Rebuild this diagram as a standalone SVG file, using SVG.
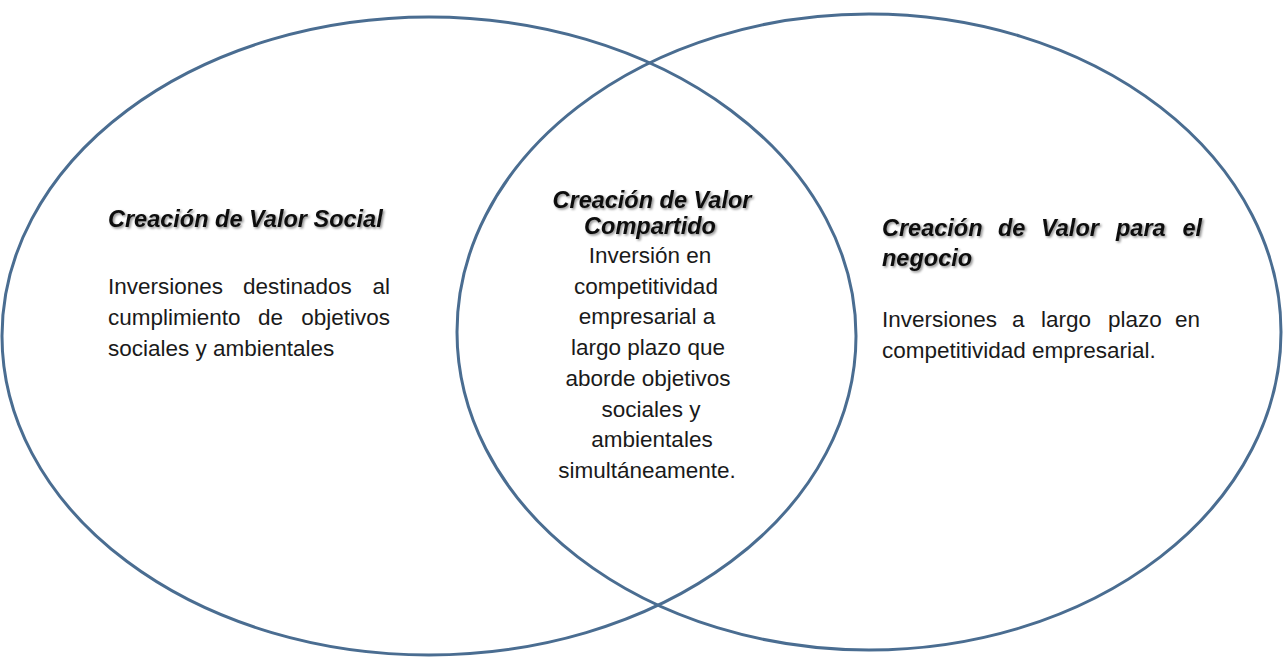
<svg xmlns="http://www.w3.org/2000/svg" width="1284" height="657" viewBox="0 0 1284 657">
<defs>
<style>
.ring{fill:none;stroke:#4a6d91;stroke-width:3}
.t{font-family:"Liberation Sans",Arial,sans-serif;font-size:23.5px;font-weight:bold;font-style:italic;fill:#111;filter:url(#sh)}
.b{font-family:"Liberation Sans",Arial,sans-serif;font-size:22.5px;fill:#1a1a1a}
.c{text-anchor:middle}
.e{text-anchor:end}
</style>
<filter id="sh" x="-10%" y="-30%" width="120%" height="160%">
<feDropShadow dx="1.5" dy="1.5" stdDeviation="1" flood-color="#000" flood-opacity="0.45"/>
</filter>
</defs>
<g id="circle-social">
<ellipse class="ring" cx="429" cy="336" rx="427" ry="319"/>
</g>
<g id="circle-negocio">
<ellipse class="ring" cx="869" cy="332" rx="412" ry="318"/>
</g>
<g id="connectors"></g>
<g id="text-social">
<text class="t" x="108" y="227">Creación de Valor Social</text>
<text class="b" y="294"><tspan x="108">Inversiones</tspan><tspan x="243">destinados</tspan><tspan class="e" x="390">al</tspan></text>
<text class="b" y="325"><tspan x="108">cumplimiento</tspan><tspan x="258">de</tspan><tspan class="e" x="390">objetivos</tspan></text>
<text class="b" x="108" y="356">sociales y ambientales</text>
</g>
<g id="text-compartido">
<text class="t c" x="652" y="208">Creación de Valor</text>
<text class="t c" x="650" y="234">Compartido</text>
<text class="b c" x="650" y="263">Inversión en</text>
<text class="b c" x="646" y="294">competitividad</text>
<text class="b c" x="647" y="324">empresarial a</text>
<text class="b c" x="648" y="355">largo plazo que</text>
<text class="b c" x="648" y="386">aborde objetivos</text>
<text class="b c" x="651" y="417">sociales y</text>
<text class="b c" x="652" y="447">ambientales</text>
<text class="b c" x="647" y="478">simultáneamente.</text>
</g>
<g id="text-negocio">
<text class="t" y="236"><tspan x="882">Creación</tspan><tspan x="998">de</tspan><tspan x="1041">Valor</tspan><tspan x="1116">para</tspan><tspan class="e" x="1202">el</tspan></text>
<text class="t" x="882" y="266">negocio</text>
<text class="b" y="327"><tspan x="882">Inversiones</tspan><tspan x="1012">a</tspan><tspan x="1041">largo</tspan><tspan x="1108">plazo</tspan><tspan class="e" x="1200">en</tspan></text>
<text class="b" x="882" y="358">competitividad empresarial.</text>
</g>
</svg>
